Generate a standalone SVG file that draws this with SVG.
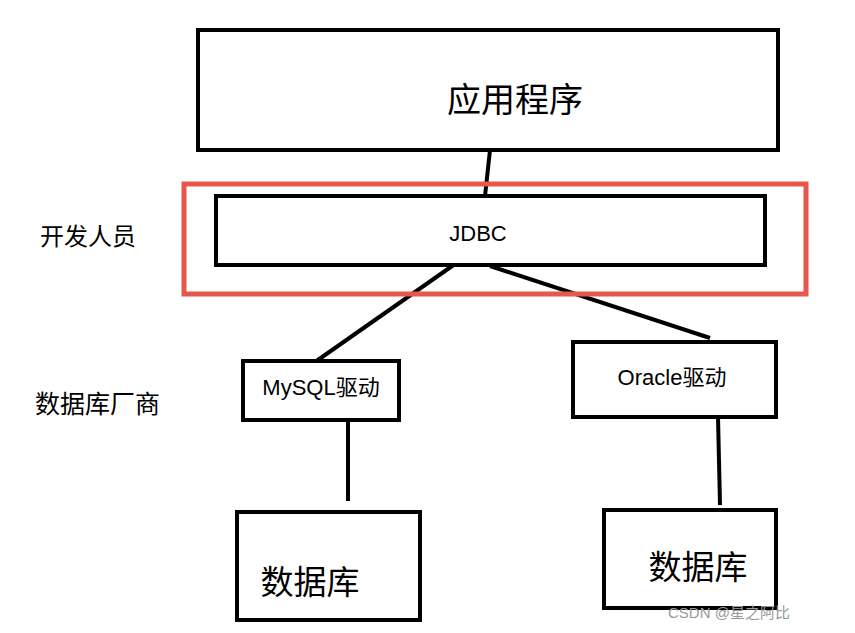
<svg xmlns="http://www.w3.org/2000/svg" width="855" height="633" viewBox="0 0 855 633">
<style>
.b{fill:#fff;stroke:#000;stroke-width:4}
.t{font-family:"Liberation Sans","Noto Sans CJK SC",sans-serif;fill:#000}
.c line{stroke:#000;stroke-width:4}
</style>
<rect width="855" height="633" fill="#fff"/>
<g class="c">
<line x1="490" y1="150" x2="485" y2="196"/>
<line x1="455" y1="264" x2="315" y2="362"/>
<line x1="490" y1="266" x2="710" y2="338"/>
<line x1="348" y1="420" x2="348" y2="501"/>
<line x1="718" y1="417" x2="720" y2="505"/>
</g>
<g id="app"><rect class="b" x="198" y="30" width="580" height="120"/><text class="t" x="515" y="112" font-size="34" text-anchor="middle">应用程序</text></g>
<g id="devgroup"><rect x="184" y="184" width="622" height="110" fill="none" stroke="#e9574c" stroke-width="5"/></g>
<g id="jdbc"><rect class="b" x="216" y="196" width="549" height="69"/><text class="t" x="478" y="241" font-size="22" text-anchor="middle">JDBC</text></g>
<g id="mysql"><rect class="b" x="243" y="361" width="156" height="59"/><text class="t" x="321" y="395" font-size="22" text-anchor="middle">MySQL驱动</text></g>
<g id="oracle"><rect class="b" x="573" y="342" width="203" height="75"/><text class="t" x="672" y="385" font-size="22" text-anchor="middle">Oracle驱动</text></g>
<g id="db1"><rect class="b" x="237" y="512" width="183" height="108"/><text class="t" x="310" y="594" font-size="33" text-anchor="middle">数据库</text></g>
<g id="db2"><rect class="b" x="604" y="510" width="172" height="98"/><text class="t" x="698" y="579" font-size="33" text-anchor="middle">数据库</text></g>
<g id="labels">
<text class="t" x="40" y="245" font-size="24">开发人员</text>
<text class="t" x="35" y="413" font-size="25">数据库厂商</text>
<text x="668" y="618" font-size="15" fill="#999" font-family="Liberation Sans,Noto Sans CJK SC,sans-serif">CSDN @星之阿比</text>
</g>
</svg>
